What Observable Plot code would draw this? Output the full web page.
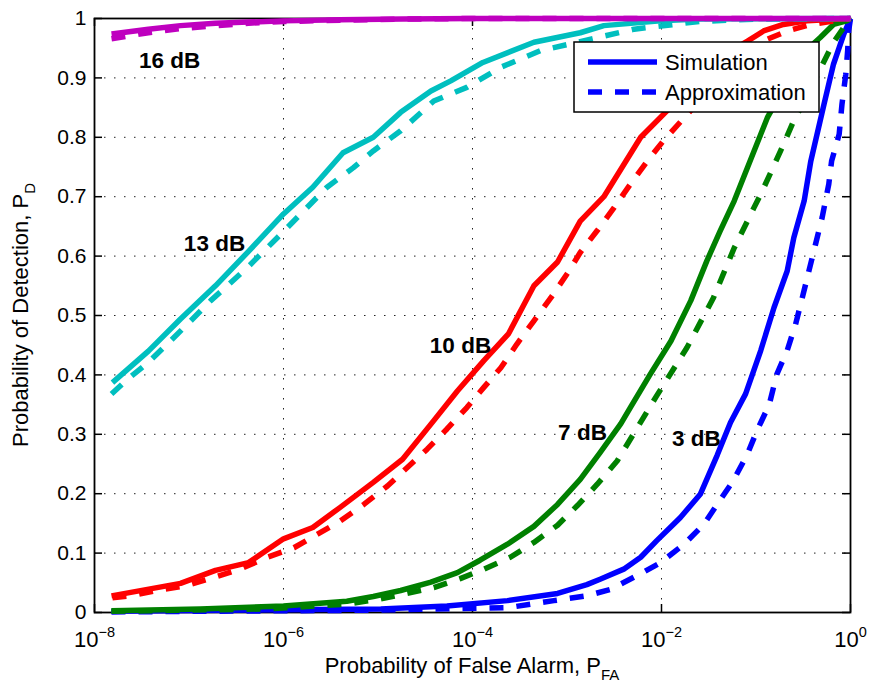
<!DOCTYPE html>
<html>
<head>
<meta charset="utf-8">
<script src="https://cdn.jsdelivr.net/npm/d3@7"></script>
<script src="https://cdn.jsdelivr.net/npm/@observablehq/plot@0.6"></script>
<style>
  html, body { margin: 0; padding: 0; background: #fff; }
  #chart svg { display: block; }
</style>
</head>
<body>
<div id="chart"></div>
<script>
// ROC curves: probability of detection vs. probability of false alarm.
// Each point is [log10(P_FA), P_D].

const snrLabels = ["3 dB", "7 dB", "10 dB", "13 dB", "16 dB"];

const sim3dB = [[-7.82,0.002],[-4.97,0.006],[-4.27,0.011],[-3.63,0.020],[-3.10,0.032],[-2.79,0.047],[-2.65,0.056],[-2.40,0.073],[-2.22,0.093],[-2.05,0.121],[-1.87,0.149],[-1.80,0.160],[-1.59,0.199],[-1.41,0.265],[-1.27,0.320],[-1.11,0.368],[-0.95,0.441],[-0.81,0.513],[-0.67,0.575],[-0.60,0.631],[-0.49,0.693],[-0.42,0.760],[-0.28,0.856],[-0.18,0.923],[-0.07,0.974],[0,1.0]];
const apx3dB = [[-7.82,0.001],[-4.97,0.004],[-3.63,0.008],[-3.14,0.020],[-2.79,0.028],[-2.54,0.039],[-2.26,0.062],[-2.01,0.084],[-1.76,0.115],[-1.55,0.149],[-1.41,0.182],[-1.24,0.222],[-1.09,0.267],[-0.99,0.306],[-0.86,0.350],[-0.78,0.401],[-0.67,0.441],[-0.58,0.486],[-0.51,0.530],[-0.44,0.575],[-0.37,0.620],[-0.30,0.665],[-0.23,0.721],[-0.20,0.760],[-0.12,0.805],[-0.09,0.856],[-0.05,0.906],[-0.03,0.946],[-0.02,0.979],[0,1.0]];

const sim7dB = [[-7.82,0.003],[-6.88,0.006],[-6.0,0.011],[-5.33,0.019],[-5.05,0.027],[-4.76,0.037],[-4.44,0.051],[-4.16,0.067],[-3.92,0.088],[-3.63,0.115],[-3.35,0.145],[-3.10,0.182],[-2.86,0.224],[-2.65,0.269],[-2.43,0.318],[-2.33,0.345],[-2.12,0.401],[-1.90,0.457],[-1.69,0.525],[-1.52,0.592],[-1.38,0.642],[-1.23,0.693],[-1.09,0.749],[-0.88,0.833],[-0.63,0.905],[-0.48,0.945],[-0.32,0.968],[-0.18,0.990],[-0.04,0.996],[0,1.0]];
const apx7dB = [[-7.82,0.002],[-6.17,0.006],[-5.96,0.008],[-5.33,0.014],[-4.97,0.023],[-4.73,0.031],[-4.41,0.042],[-4.13,0.057],[-3.88,0.073],[-3.60,0.093],[-3.35,0.118],[-3.10,0.147],[-2.89,0.180],[-2.68,0.216],[-2.47,0.255],[-2.05,0.365],[-1.73,0.446],[-1.45,0.530],[-1.23,0.614],[-1.02,0.682],[-0.95,0.704],[-0.74,0.777],[-0.60,0.828],[-0.44,0.875],[-0.32,0.915],[-0.18,0.960],[-0.05,0.990],[0,1.0]];

const sim10dB = [[-7.82,0.028],[-7.09,0.049],[-6.72,0.071],[-6.37,0.084],[-6.0,0.124],[-5.69,0.143],[-5.40,0.177],[-5.05,0.219],[-4.74,0.258],[-4.41,0.323],[-4.16,0.373],[-3.88,0.424],[-3.62,0.469],[-3.35,0.550],[-3.10,0.590],[-2.86,0.659],[-2.61,0.700],[-2.22,0.800],[-1.94,0.845],[-1.59,0.905],[-1.27,0.945],[-1.09,0.962],[-0.92,0.979],[-0.71,0.990],[-0.46,0.996],[0,1.0]];
const apx10dB = [[-7.81,0.025],[-7.62,0.028],[-7.34,0.037],[-7.04,0.045],[-6.74,0.059],[-6.46,0.073],[-6.17,0.093],[-5.89,0.109],[-5.64,0.132],[-5.40,0.154],[-5.15,0.182],[-4.90,0.213],[-4.69,0.244],[-4.48,0.275],[-4.27,0.309],[-4.06,0.345],[-3.88,0.379],[-3.70,0.412],[-3.53,0.452],[-3.35,0.491],[-3.17,0.530],[-3.00,0.570],[-2.86,0.606],[-2.68,0.643],[-2.50,0.682],[-2.33,0.721],[-2.15,0.760],[-1.98,0.794],[-1.76,0.833],[-1.38,0.900],[-1.06,0.945],[-0.88,0.965],[-0.67,0.979],[-0.42,0.990],[0,1.0]];

const sim13dB = [[-7.81,0.387],[-7.43,0.440],[-7.09,0.494],[-6.72,0.550],[-6.37,0.608],[-6.0,0.671],[-5.69,0.716],[-5.37,0.774],[-5.05,0.800],[-4.76,0.842],[-4.44,0.878],[-4.23,0.895],[-3.89,0.926],[-3.35,0.960],[-2.86,0.976],[-2.61,0.988],[-2.01,0.996],[-1.59,0.999],[0,1.0]];
const apx13dB = [[-7.82,0.368],[-7.67,0.390],[-7.43,0.421],[-7.21,0.455],[-7.0,0.488],[-6.77,0.525],[-6.38,0.581],[-5.99,0.643],[-5.54,0.716],[-5.26,0.749],[-5.05,0.777],[-4.76,0.811],[-4.41,0.861],[-4.06,0.884],[-3.70,0.918],[-3.28,0.946],[-2.89,0.960],[-2.29,0.982],[-1.6,0.995],[-1.0,0.999],[0,1.0]];

const sim16dB = [[-7.82,0.974],[-7.43,0.982],[-7.09,0.988],[-6.72,0.992],[-6.37,0.994],[-6.0,0.996],[-5.4,0.998],[-4.74,0.999],[-4.0,1.0],[0,1.0]];
const apx16dB = [[-7.82,0.966],[-7.43,0.976],[-7.09,0.983],[-6.72,0.988],[-6.37,0.992],[-6.0,0.995],[-5.4,0.997],[-4.74,0.999],[-4.0,1.0],[0,1.0]];

const simulation = [sim3dB, sim7dB, sim10dB, sim13dB, sim16dB];
const approximation = [apx3dB, apx7dB, apx10dB, apx13dB, apx16dB];

// Curve annotations: text, log10(P_FA), P_D
const noteText = ["16 dB", "13 dB", "10 dB", "7 dB", "3 dB"];
const noteLgPfa = [-7.206, -6.730, -4.127, -2.836, -1.630];
const notePd = [0.929, 0.621, 0.449, 0.303, 0.292];

const xTicks = [1e-8, 1e-6, 1e-4, 1e-2, 1];
const yTicks = [0, 0.1, 0.2, 0.3, 0.4, 0.5, 0.6, 0.7, 0.8, 0.9, 1];

const curveColors = ["#0000ff", "#008000", "#ff0000", "#00bfbf", "#bf00bf"];
const font = "'Liberation Sans', Arial, Helvetica, sans-serif";

// Flatten into a tidy table, one group per SNR and curve kind
const rows = [];
snrLabels.forEach((snr, i) => {
  for (const [lg, pd] of simulation[i]) rows.push({snr, kind: "Simulation", pfa: 10 ** lg, pd});
  for (const [lg, pd] of approximation[i]) rows.push({snr, kind: "Approximation", pfa: 10 ** lg, pd});
});
const notes = noteText.map((text, i) => ({text, pfa: 10 ** noteLgPfa[i], pd: notePd[i]}));

const expFormat = d => {
  const e = Math.round(Math.log10(d));
  return e < 0 ? "\u2212" + (-e) : String(e);
};

const lineWidth = 5.5;
const dash = "14,13";

const marks = [
  Plot.gridX(xTicks, {stroke: "#222", strokeOpacity: 1, strokeWidth: 1, strokeDasharray: "1.5,8.5"}),
  Plot.gridY(yTicks, {stroke: "#222", strokeOpacity: 1, strokeWidth: 1, strokeDasharray: "1.5,8.5"}),
  // inward tick marks on all four sides
  Plot.ruleX(xTicks, {y1: 0, y2: 0, insetTop: -8, stroke: "#000", strokeWidth: 1.5}),
  Plot.ruleX(xTicks, {y1: 1, y2: 1, insetBottom: -8, stroke: "#000", strokeWidth: 1.5}),
  Plot.ruleY(yTicks, {x1: 1e-8, x2: 1e-8, insetRight: -8, stroke: "#000", strokeWidth: 1.5}),
  Plot.ruleY(yTicks, {x1: 1, x2: 1, insetLeft: -8, stroke: "#000", strokeWidth: 1.5}),
  Plot.frame({stroke: "#000", strokeWidth: 1.8}),
  Plot.axisX(xTicks, {tickSize: 0, tickPadding: 19, tickFormat: expFormat, label: null, fontSize: 22}),
  Plot.axisY(yTicks, {tickSize: 0, tickPadding: 8, tickFormat: d3.format("~g"), label: null, fontSize: 21})
];

snrLabels.forEach(snr => {
  marks.push(Plot.line(rows.filter(r => r.snr === snr && r.kind === "Simulation"),
    {x: "pfa", y: "pd", stroke: "snr", strokeWidth: lineWidth, strokeLinejoin: "round", strokeLinecap: "butt"}));
  marks.push(Plot.line(rows.filter(r => r.snr === snr && r.kind === "Approximation"),
    {x: "pfa", y: "pd", stroke: "snr", strokeWidth: lineWidth, strokeDasharray: dash, strokeLinejoin: "round", strokeLinecap: "butt"}));
});

marks.push(Plot.text(notes, {x: "pfa", y: "pd", text: "text", fontWeight: "bold", fontSize: 22.5, fill: "#000", textAnchor: "middle"}));

const chart = Plot.plot({
  width: 869,
  height: 693,
  marginLeft: 94,
  marginRight: 19,
  marginTop: 18,
  marginBottom: 81,
  style: {fontFamily: font, color: "#000", background: "#fff", overflow: "visible"},
  x: {type: "log", domain: [1e-8, 1]},
  y: {domain: [0, 1]},
  color: {domain: snrLabels, range: curveColors},
  marks
});

const svg = d3.select(chart);

// x tick labels as 10 with a superscript exponent
svg.selectAll('g[aria-label="x-axis tick label"] text').each(function () {
  const e = this.textContent;
  const t = d3.select(this);
  t.text(null);
  t.append("tspan").text("10");
  t.append("tspan").attr("dy", "-0.72em").attr("font-size", "14.5px").text(e);
});

const [xl, xr] = chart.scale("x").range;
const [yb, yt] = chart.scale("y").range;

// axis titles with subscripts
const xTitle = svg.append("text")
  .attr("x", (xl + xr) / 2).attr("y", 673)
  .attr("text-anchor", "middle").attr("font-family", font).attr("font-size", 22).attr("fill", "#000");
xTitle.append("tspan").text("Probability of False Alarm, P");
xTitle.append("tspan").attr("font-size", 15).attr("dy", 7).text("FA");

const yTitle = svg.append("text")
  .attr("transform", `translate(28,${(yb + yt) / 2}) rotate(-90)`)
  .attr("text-anchor", "middle").attr("font-family", font).attr("font-size", 22).attr("fill", "#000");
yTitle.append("tspan").text("Probability of Detection, P");
yTitle.append("tspan").attr("font-size", 15).attr("dy", 7).text("D");

// legend box in the upper right of the axes
const lg = svg.append("g").attr("font-family", font).attr("font-size", 22).attr("text-anchor", "start");
lg.append("rect").attr("x", 574).attr("y", 42).attr("width", 245).attr("height", 70)
  .attr("fill", "#fff").attr("stroke", "#000").attr("stroke-width", 1.5);
[["Simulation", null], ["Approximation", dash]].forEach(([name, da], i) => {
  const y = 62 + i * 30;
  lg.append("line").attr("x1", 588).attr("x2", 657).attr("y1", y).attr("y2", y)
    .attr("stroke", curveColors[0]).attr("stroke-width", lineWidth)
    .attr("stroke-dasharray", da);
  lg.append("text").attr("x", 665).attr("y", y).attr("dy", "0.36em")
    .attr("text-anchor", "start").attr("fill", "#000").text(name);
});

document.getElementById("chart").appendChild(chart);
</script>
</body>
</html>
